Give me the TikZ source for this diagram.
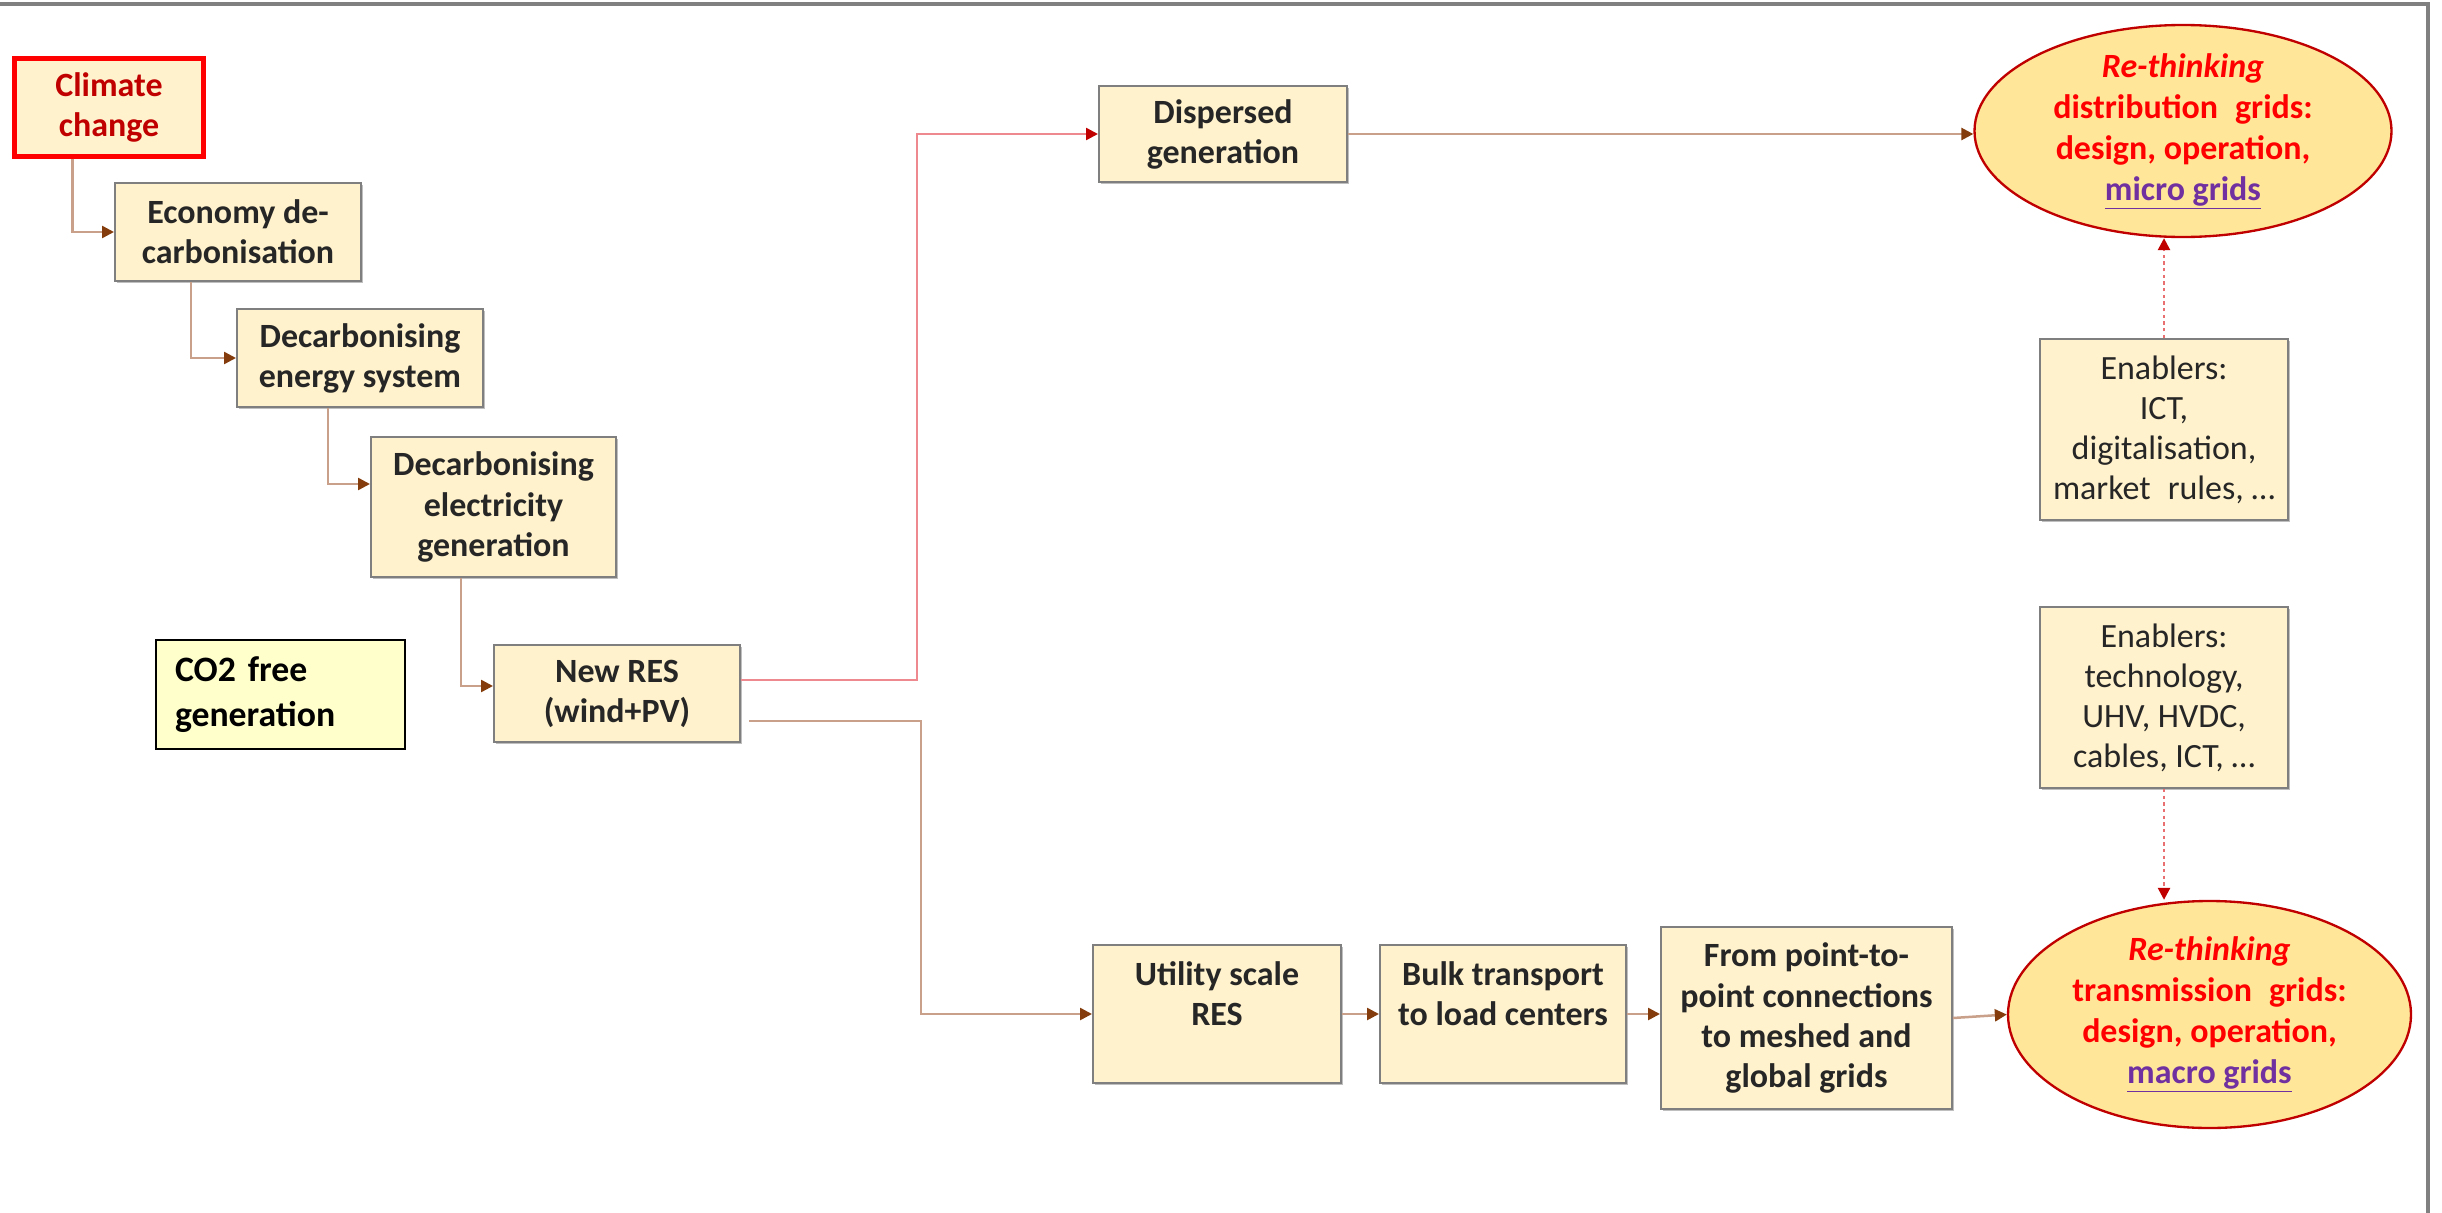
\documentclass[tikz,border=0pt]{standalone}
\usepackage{fontspec}
\setmainfont{Carlito}
\usetikzlibrary{shapes.geometric,arrows.meta,calc,shadows}
\definecolor{boxfill}{HTML}{FFF2CC}
\definecolor{boxdraw}{HTML}{7F7F7F}
\definecolor{ellfill}{HTML}{FFE699}
\definecolor{elldraw}{HTML}{C00000}
\definecolor{txtred}{HTML}{FF0000}
\definecolor{darkred}{HTML}{C00000}
\definecolor{purp}{HTML}{7030A0}
\definecolor{brownline}{HTML}{C9A08A}
\definecolor{brownhead}{HTML}{843C0C}
\definecolor{pinkline}{HTML}{EE8A8F}
\definecolor{dotline}{HTML}{E87070}
\definecolor{co2fill}{HTML}{FFFFCC}
\definecolor{txt}{HTML}{262626}
\definecolor{frame}{HTML}{808080}
\begin{document}
\begin{tikzpicture}[x=0.3mm,y=-0.3mm,
  box/.style={draw=boxdraw, fill=boxfill, line width=0.6mm, align=center, inner sep=0pt,
    text=txt, font=\bfseries\fontsize{29}{34.2}\selectfont,
    drop shadow={shadow xshift=0.5mm, shadow yshift=-0.5mm, opacity=0.25, fill=black}},
  enbox/.style={box, font=\fontsize{29}{34.2}\selectfont},
  ell/.style={ellipse, draw=elldraw, fill=ellfill, line width=0.7mm, inner sep=0pt},
  elltext/.style={align=center, text=txtred, inner sep=0pt, font=\bfseries\fontsize{29}{35}\selectfont},
  conn/.style={draw=brownline, line width=0.75mm, -{Triangle[length=3.6mm,width=3.6mm,color=brownhead]}},
  redconn/.style={draw=pinkline, line width=0.75mm, -{Triangle[length=3.6mm,width=3.6mm,color=darkred]}},
  dotconn/.style={draw=dotline, line width=0.75mm, dash pattern=on 1mm off 1mm, -{Triangle[length=3.6mm,width=3.6mm,color=darkred]}}
]
\useasboundingbox (0,0) rectangle (2442,1213);
\fill[white] (0,0) rectangle (2442,1213);
\draw[draw=frame, line width=1.2mm, line join=miter] (0,4) -- (2428,4) -- (2428,1213);

% left chain
\node[box, draw=red, line width=1.5mm, text=darkred, minimum width=56.4mm, minimum height=29.4mm] (clim) at (109,107) {Climate\\change};
\node[box, minimum width=73.8mm, minimum height=29.4mm] (econ) at (238,232) {Economy de-\\carbonisation};
\node[box, minimum width=73.8mm, minimum height=29.4mm] (ener) at (360,358) {Decarbonising\\energy system};
\node[box, minimum width=73.5mm, minimum height=42mm] (elec) at (493.5,507) {Decarbonising\\electricity\\generation};
\node[draw=black, fill=co2fill, line width=0.6mm, align=left, text width=63.3mm, inner xsep=5.7mm, inner ysep=0pt,
  minimum height=32.7mm, font=\bfseries\fontsize{30.5}{38}\selectfont] (co2) at (280.5,694.5) {CO2 free\\generation};
\node[box, minimum width=73.8mm, minimum height=29.1mm] (nres) at (617,693.5) {New RES\\(wind+PV)};

% upper branch
\node[box, minimum width=74.4mm, minimum height=28.8mm] (disp) at (1223,134) {Dispersed\\generation};
\node[ell, minimum width=125.1mm, minimum height=63.6mm] (ell1) at (2183,131) {};
\node[elltext] (ell1t) at (ell1.center) {\textit{Re-thinking}\\distribution\enspace grids:\\design, operation,\\\textcolor{purp}{\underline{micro grids}}};
\node[enbox, minimum width=74.4mm, minimum height=54.3mm] (en1) at (2164,429.5) {Enablers:\\ICT,\\digitalisation,\\market\enspace rules, \dots};

% lower branch
\node[box, minimum width=74.4mm, minimum height=41.4mm] (util) at (1217,1014) {Utility scale\\RES\\\mbox{}};
\node[box, minimum width=73.8mm, minimum height=41.4mm] (bulk) at (1503,1014) {Bulk transport\\to load centers\\\mbox{}};
\node[box, minimum width=87.3mm, minimum height=54.6mm] (from) at (1806.5,1018) {From point-to-\\point connections\\to meshed and\\global grids};
\node[ell, minimum width=120.9mm, minimum height=68.1mm] (ell2) at (2209.5,1014.5) {};
\node[elltext] (ell2t) at (ell2.center) {\textit{Re-thinking}\\transmission\enspace grids:\\design, operation,\\\textcolor{purp}{\underline{macro grids}}};
\node[enbox, minimum width=74.4mm, minimum height=54.3mm] (en2) at (2164,697.5) {Enablers:\\technology,\\UHV, HVDC,\\cables, ICT, \dots};

% connectors
\draw[conn] ($(clim.south west)+(60,0)$) |- (econ.west);
\draw[conn] ($(econ.south west)+(77,0)$) |- (ener.west);
\draw[conn] ($(ener.south west)+(92,0)$) |- ($(elec.north west)+(0,48)$);
\draw[conn] ($(elec.south west)+(91,0)$) |- ($(nres.north west)+(0,42)$);

\coordinate (rb) at (917,680);
\draw[redconn] (nres.east |- rb) -- (rb) |- (disp.west);
\coordinate (bb) at (921,721);
\draw[conn] ($(nres.east |- bb)+(8,0)$) -- (bb) |- (util.west);

\draw[conn] (disp.east) -- (disp.east -| ell1.west);
\draw[conn] (util.east) -- (bulk.west);
\draw[conn] (bulk.east) -- (bulk.east -| from.west);
\draw[conn] (from.east) -- (ell2.west);
\draw[dotconn] (en1.north) -- (en1.north |- ell1.south);
\draw[dotconn] (en2.south) -- (en2.south |- ell2.north);
\end{tikzpicture}
\end{document}
